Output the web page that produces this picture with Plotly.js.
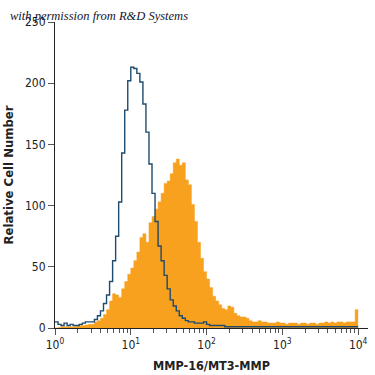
<!DOCTYPE html>
<html>
<head>
<meta charset="utf-8">
<script src="https://cdn.plot.ly/plotly-3.0.1.min.js"></script>
<style>
html,body{margin:0;padding:0;background:#fff;}
#chart{width:375px;height:375px;}
</style>
</head>
<body>
<div id="chart"></div>
<script>
// Histogram bins: 0.04 decade wide, starting at 10^0 (log channel bins)
var binStartLog = 0;
var binWidthLog = 0.04;

// Isotype control (blue outline)
var isotypeCounts = [
  5, 3, 2, 4, 2, 3, 2, 2, 3, 4,
  5, 5, 5, 7, 10, 14, 20, 27, 38, 55,
  75, 103, 143, 178, 202, 213, 212, 208, 201, 183,
  160, 134, 110, 87, 67, 55, 43, 32, 23, 18,
  14, 10, 8, 6, 5, 5, 4, 4, 4, 5,
  3, 2, 2, 2, 2, 2, 1, 1, 1, 1,
  1, 1, 1, 1, 1, 1, 1, 1, 1, 1,
  1, 1, 1, 1, 1, 1, 1, 1, 1, 1,
  1, 1, 1, 1, 1, 1, 1, 1, 1, 1,
  1, 1, 1, 1, 1, 1, 1, 1, 1, 1
];

// MMP-16/MT3-MMP antibody (orange filled)
var antibodyCounts = [
  0, 0.5, 1, 1, 1, 1, 1, 1.5, 2, 2,
  2.5, 3, 3, 5, 6, 8, 11, 15, 22, 28,
  27, 25, 32, 38, 44, 49, 55, 62, 74, 77,
  70, 86, 91, 97, 103, 110, 118, 120, 126, 135,
  138, 133, 135, 121, 117, 101, 87, 70, 57, 46,
  40, 33, 26, 22, 19, 16, 15, 18, 17, 12,
  10, 9, 9, 8, 6, 5, 5, 6, 5, 5,
  4, 4, 4, 5, 4, 4, 3, 4, 4, 4,
  3, 4, 4, 3, 4, 4, 3, 4, 4, 5,
  4, 5, 4, 5, 5, 4, 5, 5, 5, 15
];

var yTickVals = [0, 50, 100, 150, 200, 250];
var xTickVals = [1, 10, 100, 1000, 10000];
var xTickText = ['10<sup>0</sup>', '10<sup>1</sup>', '10<sup>2</sup>', '10<sup>3</sup>', '10<sup>4</sup>'];

function stepXY(counts) {
  var xs = [], ys = [];
  for (var i = 0; i < counts.length; i++) {
    xs.push(Math.pow(10, binStartLog + i * binWidthLog));
    ys.push(counts[i]);
  }
  xs.push(Math.pow(10, binStartLog + counts.length * binWidthLog));
  ys.push(counts[counts.length - 1]);
  return {x: xs, y: ys};
}

var ab = stepXY(antibodyCounts);
var iso = stepXY(isotypeCounts);

var font = '"DejaVu Sans Condensed", "Liberation Sans Narrow", sans-serif';

var traces = [
  {
    x: ab.x, y: ab.y, type: 'scatter', mode: 'lines',
    line: {shape: 'hv', color: '#F7A11E', width: 0.5},
    fill: 'tozeroy', fillcolor: '#F7A11E',
    hoverinfo: 'skip'
  },
  {
    x: iso.x, y: iso.y, type: 'scatter', mode: 'lines',
    line: {shape: 'hv', color: '#1E4B6E', width: 1.4},
    hoverinfo: 'skip'
  }
];

var layout = {
  width: 375, height: 375,
  margin: {l: 55, r: 7, t: 22, b: 47},
  paper_bgcolor: '#fff', plot_bgcolor: '#fff',
  showlegend: false,
  font: {family: font, color: '#222', size: 12},
  xaxis: {
    type: 'log', range: [0, 4.13],
    tickmode: 'array', tickvals: xTickVals, ticktext: xTickText,
    ticks: 'outside', ticklen: 6, tickwidth: 1, tickcolor: '#555',
    minor: {dtick: 'D1', ticks: 'outside', ticklen: 4, tickwidth: 1, tickcolor: '#555'},
    showgrid: false, zeroline: false,
    showline: true, linecolor: '#222', linewidth: 1,
    tickfont: {family: font, size: 12, color: '#222'},
    title: {text: '<b>MMP-16/MT3-MMP</b>', font: {family: font, size: 12.5, color: '#222'}, standoff: 9}
  },
  yaxis: {
    range: [0, 250],
    tickmode: 'array', tickvals: yTickVals,
    ticks: 'outside', ticklen: 6, tickwidth: 1, tickcolor: '#555',
    showgrid: false, zeroline: false,
    showline: true, linecolor: '#222', linewidth: 1,
    tickfont: {family: font, size: 12, color: '#222'},
    title: {text: '<b>Relative Cell Number</b>', font: {family: font, size: 13, color: '#222'}, standoff: 8}
  },
  annotations: [{
    text: '<i>with permission from R&amp;D Systems</i>',
    xref: 'paper', yref: 'paper',
    x: -47 / 313, y: 1 + 6 / 306,
    xanchor: 'left', yanchor: 'middle',
    showarrow: false,
    font: {family: '"Liberation Serif", "DejaVu Serif", serif', size: 12.5, color: '#15152e'}
  }]
};

Plotly.newPlot('chart', traces, layout, {displayModeBar: false, staticPlot: true});
</script>
</body>
</html>
